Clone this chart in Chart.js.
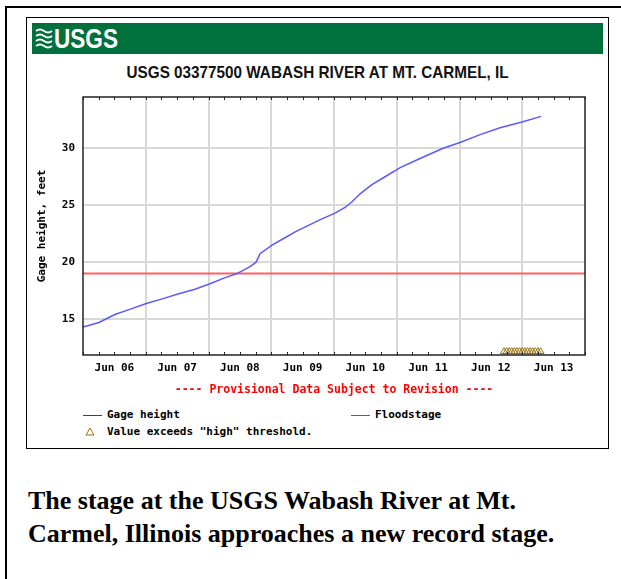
<!DOCTYPE html>
<html>
<head>
<meta charset="utf-8">
<script src="https://cdn.jsdelivr.net/npm/chart.js@4.4.1/dist/chart.umd.min.js"></script>
<style>
  body { margin: 0; background: #fff; width: 621px; height: 579px; overflow: hidden; position: relative; }
  #outer { position: absolute; left: 5px; top: 6px; width: 660px; height: 640px; border-left: 2px solid #000; border-top: 2px solid #000; }
  #panel { position: absolute; left: 26px; top: 17px; width: 581px; height: 430px; border: 1px solid #000; }
  #band { position: absolute; left: 32px; top: 23px; width: 571px; height: 31px; background: #00703c; }
  #logo { position: absolute; left: 35px; top: 26px; height: 26px; }
  #logoText { position: absolute; left: 54px; top: 23px; color: #fff; font: bold 28px "Liberation Sans", Arial, sans-serif; white-space: nowrap; transform-origin: 0 0; }
  #titleBox { position: absolute; left: 27px; width: 581px; top: 63px; text-align: center; }
  #title { display: inline-block; white-space: nowrap; font: bold 17px "Liberation Sans", Arial, sans-serif; color: #111; transform-origin: 50% 50%; }
  #wrap { position: absolute; left: 28px; top: 60px; width: 579px; height: 340px; }
  .leg { position: absolute; font: bold 11px "DejaVu Sans Mono", monospace; color: #000; }
  .seg { position: absolute; height: 1px; width: 19px; }
  #caption { position: absolute; left: 28px; top: 484px; font: bold 26px "Liberation Serif", "Times New Roman", serif; line-height: 33px; color: #000; white-space: nowrap; }
</style>
</head>
<body>
<div id="outer"></div>
<div id="panel"></div>
<div id="band"></div>
<svg id="logo" width="18" height="26" viewBox="0 0 18 26">
  <path d="M1 5 Q5 2 9 5 T17 5" stroke="#fff" stroke-width="2" fill="none"/>
  <path d="M1 10 Q5 7 9 10 T17 10" stroke="#fff" stroke-width="2" fill="none"/>
  <path d="M1 15 Q5 12 9 15 T17 15" stroke="#fff" stroke-width="2" fill="none"/>
  <path d="M1 20 Q5 17 9 20 T17 20" stroke="#fff" stroke-width="2" fill="none"/>
</svg>
<div id="logoText">USGS</div>
<div id="titleBox"><span id="title">USGS 03377500 WABASH RIVER AT MT. CARMEL, IL</span></div>
<div id="wrap"><canvas id="chart"></canvas></div>

<div class="seg" style="left:83px;top:415px;background:#2b2bff"></div>
<div class="leg" style="left:107px;top:408px">Gage height</div>
<div class="seg" style="left:351px;top:415px;background:#ff2020"></div>
<div class="leg" style="left:375px;top:408px">Floodstage</div>
<svg style="position:absolute;left:85px;top:427px" width="10" height="9"><polygon points="5,1 9,8 1,8" fill="none" stroke="#9a7410" stroke-width="1"/></svg>
<div class="leg" style="left:107px;top:425px">Value exceeds "high" threshold.</div>

<div id="caption">The stage at the USGS Wabash River at Mt.<br>Carmel, Illinois approaches a new record stage.</div>

<script>
// hours since Jun 06 00:00
var hours = [0, 6.1, 12.2, 18.4, 24.5, 30.6, 36.3, 42.5, 48.6, 53.9, 58.9, 63.9, 66.2, 67.7, 72.3, 76.9, 81.5, 86.8, 91.4, 96.4, 100.2, 102.9, 106, 110.5, 115.5, 121.3, 128.9, 137.7, 144.2, 151.9, 159.5, 167.9, 175.2];
var gageHeight = [14.3, 14.7, 15.4, 15.9, 16.4, 16.8, 17.2, 17.6, 18.1, 18.6, 19.0, 19.6, 20.0, 20.75, 21.5, 22.1, 22.7, 23.3, 23.8, 24.3, 24.8, 25.3, 26.0, 26.8, 27.5, 28.3, 29.1, 30.0, 30.5, 31.2, 31.8, 32.3, 32.8];
var floodHours = [0, 192];
var floodStage = [19.0, 19.0];
var thresholdHours = [161, 162, 163, 164, 165, 166, 167, 168, 169, 170, 171, 172, 173, 174, 175];
var thresholdMarks = [12.15, 12.15, 12.15, 12.15, 12.15, 12.15, 12.15, 12.15, 12.15, 12.15, 12.15, 12.15, 12.15, 12.15, 12.15];
var xLabelHours = [12, 36, 60, 84, 108, 132, 156, 180];
var xTickLabels = ["Jun 06", "Jun 07", "Jun 08", "Jun 09", "Jun 10", "Jun 11", "Jun 12", "Jun 13"];
var xGridHours = [24, 48, 72, 96, 120, 144, 168];
var yTicks = [15, 20, 25, 30];

var mono = "'DejaVu Sans Mono', monospace";
var minorHours = [];
for (var h = 0; h <= 192; h += 6) minorHours.push(h);

// squeeze the narrow header fonts to the widths seen in the picture
function squeeze(id, width) {
    var el = document.getElementById(id);
    var w = el.getBoundingClientRect().width;
    el.style.transform = "scaleX(" + (width / w) + ")";
}
squeeze("title", 382);
squeeze("logoText", 64);

function pairs(xs, ys) {
    return xs.map(function (x, i) { return { x: x, y: ys[i] }; });
}

var frame = {
    id: "frame",
    afterDraw: function (chart) {
        var a = chart.chartArea;
        var ctx = chart.ctx;
        var xs = chart.scales.x;
        ctx.save();
        ctx.strokeStyle = "#222";
        ctx.lineWidth = 1;
        ctx.beginPath();
        minorHours.forEach(function (v) {
            var px = Math.round(xs.getPixelForValue(v)) + 0.5;
            ctx.moveTo(px, a.top);
            ctx.lineTo(px, a.top + 3);
            ctx.moveTo(px, a.bottom);
            ctx.lineTo(px, a.bottom - 3);
        });
        ctx.stroke();
        ctx.lineWidth = 1.5;
        ctx.strokeRect(a.left, a.top, a.right - a.left, a.bottom - a.top);
        ctx.restore();
    }
};

new Chart(document.getElementById("chart"), {
    type: "line",
    data: {
        datasets: [{
            label: "Gage height",
            data: pairs(hours, gageHeight),
            borderColor: "#5a5aff",
            borderWidth: 1.5,
            pointRadius: 0,
            tension: 0
        }, {
            label: "Floodstage",
            data: pairs(floodHours, floodStage),
            borderColor: "#ff6060",
            borderWidth: 2,
            pointRadius: 0
        }, {
            label: "Value exceeds \"high\" threshold.",
            data: pairs(thresholdHours, thresholdMarks),
            showLine: false,
            pointStyle: "triangle",
            pointRadius: 4,
            borderColor: "#9a7410",
            borderWidth: 1,
            backgroundColor: "rgba(0,0,0,0)"
        }]
    },
    options: {
        responsive: true,
        maintainAspectRatio: false,
        animation: false,
        layout: { padding: { left: 0, right: 22, top: 37, bottom: 3 } },
        plugins: { legend: { display: false }, tooltip: { enabled: false } },
        scales: {
            x: {
                type: "linear",
                min: 0,
                max: 192,
                afterBuildTicks: function (s) { s.ticks = minorHours.map(function (v) { return { value: v }; }); },
                afterFit: function (s) { s.height = 42; },
                ticks: {
                    autoSkip: false,
                    maxRotation: 0,
                    padding: 7,
                    color: "#000",
                    font: { family: mono, size: 11, weight: "bold" },
                    callback: function (v) {
                        var i = xLabelHours.indexOf(v);
                        return i >= 0 ? xTickLabels[i] : "";
                    }
                },
                grid: {
                    drawTicks: false,
                    lineWidth: 2,
                    color: function (c) {
                        return c.tick && xGridHours.indexOf(c.tick.value) >= 0 ? "#d8d8d8" : "rgba(0,0,0,0)";
                    }
                },
                border: { display: false },
                title: {
                    display: true,
                    text: "---- Provisional Data Subject to Revision ----",
                    color: "#ff0000",
                    font: { family: mono, size: 11.5, weight: "bold" },
                    padding: { top: 0, bottom: 0 }
                }
            },
            y: {
                min: 11.85,
                max: 34.5,
                afterBuildTicks: function (s) { s.ticks = yTicks.map(function (v) { return { value: v }; }); },
                afterFit: function (s) { s.width = 55; },
                ticks: {
                    padding: 8,
                    color: "#000",
                    font: { family: mono, size: 11, weight: "bold" }
                },
                grid: { drawTicks: false, lineWidth: 2, color: "#d8d8d8" },
                border: { display: false },
                title: {
                    display: true,
                    text: "Gage height, feet",
                    color: "#000",
                    font: { family: mono, size: 11, weight: "bold" },
                    padding: { top: 8, bottom: 0 }
                }
            }
        }
    },
    plugins: [frame]
});
</script>
</body>
</html>
